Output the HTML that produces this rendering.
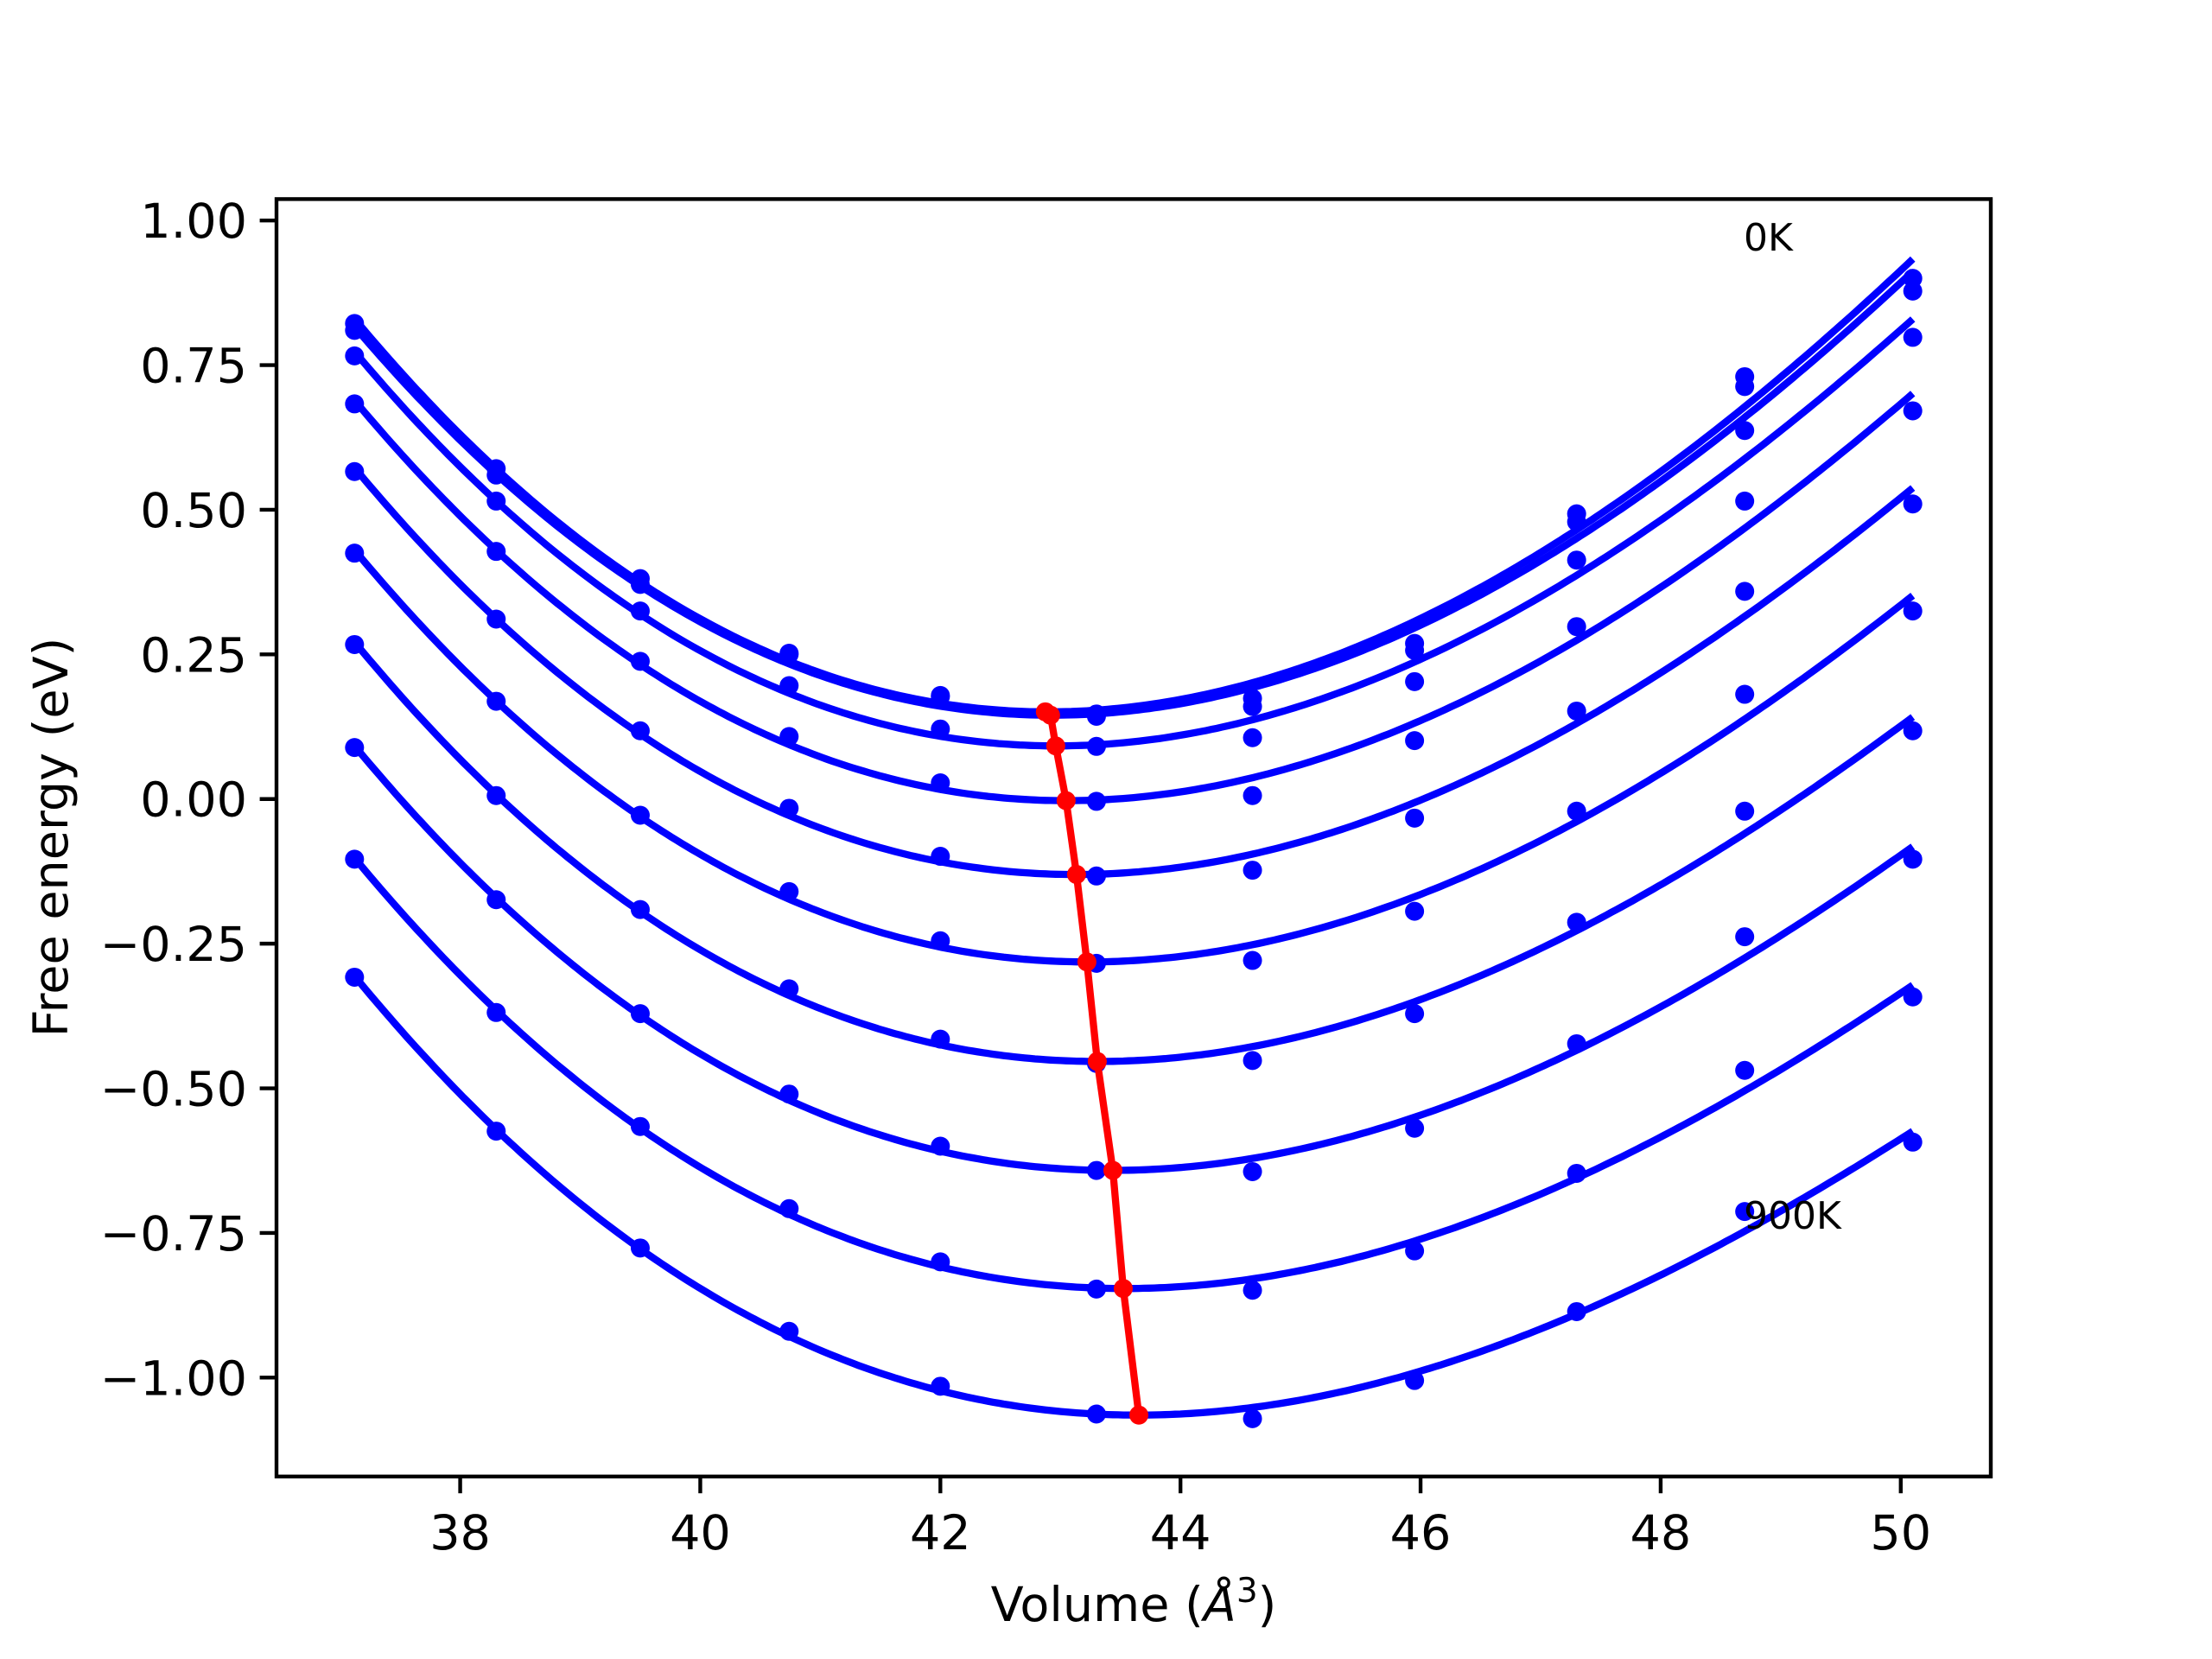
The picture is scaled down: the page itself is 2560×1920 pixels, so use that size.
<!DOCTYPE html>
<html><head><meta charset="utf-8"><style>html,body{margin:0;padding:0;background:#fff}svg{display:block}text{font-family:"DejaVu Sans","Liberation Sans",sans-serif}</style></head>
<body>
<svg id="chart" width="2560" height="1920" viewBox="0 0 2560 1920" xmlns="http://www.w3.org/2000/svg">
<rect x="0" y="0" width="2560" height="1920" fill="#fff"/>
<g id="plot"></g>
<rect x="320" y="230.4" width="1984" height="1478.4" fill="none" stroke="#000" stroke-width="4.4"/>
<g id="xticks"></g><g id="yticks"></g>
<text x="1312" y="1876" font-size="55.6" text-anchor="middle">Volume (<tspan font-style="italic">Å</tspan><tspan font-size="39" dy="-22">3</tspan><tspan dy="22">)</tspan></text>
<text transform="translate(78,969) rotate(-90)" font-size="55.6" text-anchor="middle">Free energy (eV)</text>
<text x="2018" y="290" font-size="44">0K</text>
<text x="2018" y="1422" font-size="44">900K</text>
</svg>
<script>
const volumes = [37.12, 38.3, 39.5, 40.74, 42.0, 43.3, 44.6, 45.95, 47.3, 48.7, 50.1];
const E0 = [0.822, 0.571, 0.381, 0.252, 0.179, 0.147, 0.174, 0.269, 0.493, 0.730, 0.900];
const E100 = [0.810, 0.560, 0.371, 0.250, 0.177, 0.143, 0.160, 0.257, 0.479, 0.713, 0.878];
const E200 = [0.766, 0.515, 0.325, 0.196, 0.121, 0.091, 0.106, 0.203, 0.413, 0.637, 0.798];
const E300 = [0.683, 0.428, 0.238, 0.108, 0.028, -0.004, 0.006, 0.101, 0.298, 0.515, 0.671];
const E400 = [0.566, 0.311, 0.118, -0.016, -0.099, -0.133, -0.123, -0.033, 0.152, 0.359, 0.510];
const E500 = [0.425, 0.169, -0.028, -0.160, -0.245, -0.284, -0.279, -0.194, -0.021, 0.181, 0.325];
const E600 = [0.267, 0.006, -0.191, -0.328, -0.415, -0.457, -0.452, -0.371, -0.213, -0.021, 0.118];
const E700 = [0.089, -0.174, -0.371, -0.510, -0.600, -0.642, -0.644, -0.569, -0.423, -0.238, -0.104];
const E800 = [-0.104, -0.369, -0.566, -0.708, -0.800, -0.847, -0.849, -0.781, -0.647, -0.469, -0.342];
const E900 = [-0.308, -0.574, -0.776, -0.920, -1.015, -1.063, -1.071, -1.005, -0.886, -0.713, -0.593];
const series = [E0, E100, E200, E300, E400, E500, E600, E700, E800, E900];
const xTicks = [38, 40, 42, 44, 46, 48, 50];
const yTicks = [-1.0, -0.75, -0.5, -0.25, 0.0, 0.25, 0.5, 0.75, 1.0];

const X0 = 320, X1 = 2304, Y0 = 1708.8, Y1 = 230.4;
const xmin = 36.47, xmax = 50.75, ymin = -1.171, ymax = 1.037;
const sx = v => X0 + (v - xmin) / (xmax - xmin) * (X1 - X0);
const sy = v => Y0 - (v - ymin) / (ymax - ymin) * (Y0 - Y1);
const NS = "http://www.w3.org/2000/svg";
function mk(tag, attrs, parent) { const e = document.createElementNS(NS, tag); for (const k in attrs) e.setAttribute(k, attrs[k]); parent.appendChild(e); return e; }

function fit3(xs, ys) {
  const m = xs.reduce((a, b) => a + b, 0) / xs.length;
  const n = 4, A = [], b = [0, 0, 0, 0];
  for (let i = 0; i < n; i++) A.push([0, 0, 0, 0]);
  xs.forEach((x, k) => { const t = x - m; const p = [1, t, t * t, t * t * t];
    for (let i = 0; i < n; i++) { b[i] += p[i] * ys[k]; for (let j = 0; j < n; j++) A[i][j] += p[i] * p[j]; } });
  for (let i = 0; i < n; i++) { let piv = i; for (let r = i + 1; r < n; r++) if (Math.abs(A[r][i]) > Math.abs(A[piv][i])) piv = r;
    [A[i], A[piv]] = [A[piv], A[i]]; [b[i], b[piv]] = [b[piv], b[i]];
    for (let r = 0; r < n; r++) if (r !== i) { const f = A[r][i] / A[i][i]; for (let c = i; c < n; c++) A[r][c] -= f * A[i][c]; b[r] -= f * b[i]; } }
  const c = b.map((v, i) => v / A[i][i]);
  return x => { const t = x - m; return c[0] + c[1] * t + c[2] * t * t + c[3] * t * t * t; };
}

const plot = document.getElementById('plot');
const mins = [];
series.forEach((ys, si) => {
  const f = fit3(volumes, ys);
  let d = '', best = null;
  for (let i = 0; i <= 300; i++) { const v = volumes[0] + (volumes[volumes.length - 1] - volumes[0]) * i / 300; const e = f(v);
    d += (i ? 'L' : 'M') + sx(v).toFixed(1) + ',' + sy(e).toFixed(1);
    if (!best || e < best[1]) best = [v, e]; }
  mins.push(best);
  const p = mk('path', { d: d, fill: 'none', stroke: '#0000ff', 'stroke-width': 8.3 }, plot);
  
  
  ys.forEach((y, k) => {
    const c = mk('circle', { cx: sx(volumes[k]), cy: sy(y), r: 11, fill: '#0000ff' }, plot);
    
    
  });
});
const rl = mk('path', { d: mins.map((m, i) => (i ? 'L' : 'M') + sx(m[0]) + ',' + sy(m[1])).join(''), fill: 'none', stroke: '#ff0000', 'stroke-width': 8.3 }, plot);


mins.forEach(m => {
  const c = mk('circle', { cx: sx(m[0]), cy: sy(m[1]), r: 11, fill: '#ff0000' }, plot);
  
  
});

const xg = document.getElementById('xticks');
xTicks.forEach(t => {
  const l = mk('line', { x1: sx(t), x2: sx(t), y1: Y0, y2: Y0 + 19.4, stroke: '#000', 'stroke-width': 4.4 }, xg);
  
  
  const tx = mk('text', { x: sx(t), y: Y0 + 84, 'font-size': 55.6, 'text-anchor': 'middle' }, xg);
  tx.textContent = String(t);
  
  
});
const yg = document.getElementById('yticks');
yTicks.forEach(t => {
  const l = mk('line', { x1: X0 - 19.4, x2: X0, y1: sy(t), y2: sy(t), stroke: '#000', 'stroke-width': 4.4 }, yg);
  
  
  const tx = mk('text', { x: X0 - 34, y: sy(t) + 20, 'font-size': 55.6, 'text-anchor': 'end' }, yg);
  tx.textContent = (t < 0 ? '\u2212' : '') + Math.abs(t).toFixed(2);
  
  
});
</script>
</body></html>
